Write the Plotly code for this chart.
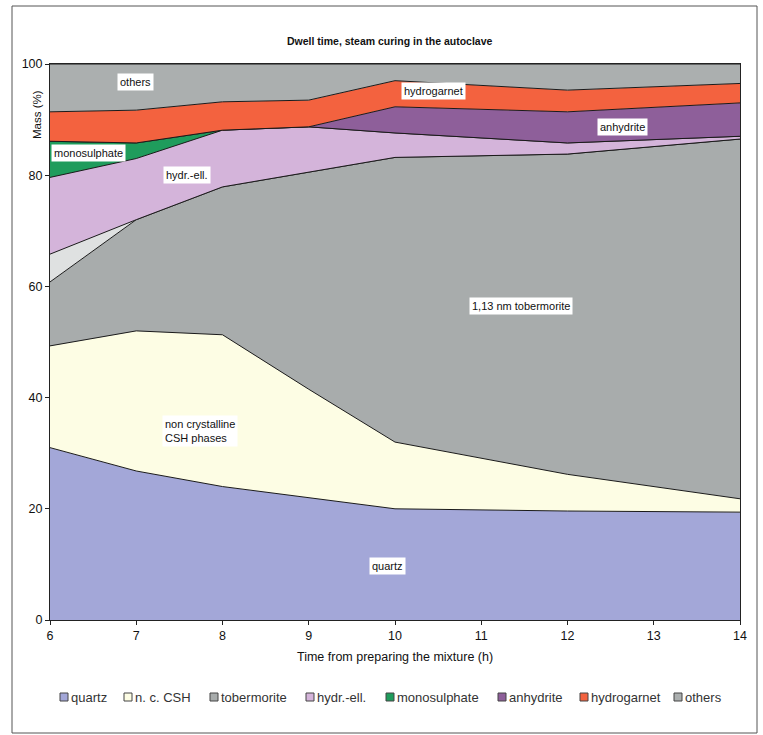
import plotly.graph_objects as go

# ---------------- data ----------------
hours = [6, 7, 8, 9, 10, 12, 14]
quartz = [31.0, 26.8, 24.0, 22.0, 20.0, 19.6, 19.4]
nc_csh = [18.3, 25.2, 27.3, 19.5, 12.0, 6.6, 2.4]
tobermorite = [11.5, 20.0, 26.6, 39.0, 51.2, 57.6, 64.7]
unnamed_phase = [5.0, 0.0, 0.0, 0.0, 0.0, 0.0, 0.0]
hydr_ell = [13.8, 11.0, 10.2, 8.2, 4.4, 2.0, 0.5]
monosulphate = [6.5, 2.8, 0.0, 0.0, 0.0, 0.0, 0.0]
anhydrite = [0.0, 0.0, 0.0, 0.0, 4.7, 5.6, 6.0]
hydrogarnet = [5.3, 5.9, 5.1, 4.8, 4.7, 3.9, 3.5]
others = [8.6, 8.3, 6.8, 6.5, 3.0, 4.7, 3.5]

series_names = ["quartz", "n. c. CSH", "tobermorite", "", "hydr.-ell.",
                "monosulphate", "anhydrite", "hydrogarnet", "others"]
series_values = [quartz, nc_csh, tobermorite, unnamed_phase, hydr_ell,
                 monosulphate, anhydrite, hydrogarnet, others]
series_colors = ["#a3a7d8", "#fdfde4", "#a8acac", "#dfe1e1", "#d4b4da",
                 "#1f9c5c", "#8e5f9a", "#f3623f", "#abafaf"]

y_ticks = [0, 20, 40, 60, 80, 100]
x_ticks = [6, 7, 8, 9, 10, 11, 12, 13, 14]

# in-plot labels: (text, x, y)
area_labels = [
    ("others", 6.99, 96.8),
    ("hydrogarnet", 10.45, 95.1),
    ("anhydrite", 12.64, 88.7),
    ("monosulphate", 6.45, 84.0),
    ("hydr.-ell.", 7.59, 80.0),
    ("1,13 nm tobermorite", 11.46, 56.5),
    ("non crystalline<br>CSH phases", 7.74, 34.0),
    ("quartz", 9.91, 9.7),
]

FONT = "Liberation Sans, Arial, sans-serif"
NARROW = "Liberation Sans Narrow, Arial Narrow, Liberation Sans, Arial, sans-serif"

fig = go.Figure()
for name, vals, col in zip(series_names, series_values, series_colors):
    fig.add_trace(go.Scatter(
        x=hours, y=vals, name=name, mode="lines", stackgroup="one",
        line=dict(color="#1a1a1a", width=1), fillcolor=col,
        showlegend=False, hoverinfo="x+y+name"))

# plot-area geometry (pixels) used for layout decorations
W, H = 763, 735
L, R, T, B = 50, 23, 64, 115
pw, ph = W - L - R, H - T - B


def px_x(px):
    return (px - L) / pw


def px_y(py):
    return (H - B - py) / ph


annotations = []
for text, xv, yv in area_labels:
    annotations.append(dict(
        x=xv, y=yv, xref="x", yref="y", text=text, showarrow=False,
        align="left", bgcolor="white", borderpad=2,
        font=dict(family=FONT, size=11, color="#111")))

# title, axis titles
annotations.append(dict(x=px_x(390), y=px_y(41), xref="paper", yref="paper",
                        xanchor="center", yanchor="middle",
                        text="<b>Dwell time, steam curing in the autoclave</b>",
                        showarrow=False, font=dict(family=FONT, size=10.5, color="#111")))
annotations.append(dict(x=px_x(37), y=px_y(115), xref="paper", yref="paper",
                        xanchor="center", yanchor="middle",
                        text="Mass (%)", textangle=-90, showarrow=False,
                        font=dict(family=FONT, size=11.5, color="#111")))
annotations.append(dict(x=px_x(395), y=px_y(657), xref="paper", yref="paper",
                        xanchor="center", yanchor="middle",
                        text="Time from preparing the mixture (h)", showarrow=False,
                        font=dict(family=NARROW, size=12.5, color="#111")))

# custom legend (squares + text)
legend_centers = [64, 128, 214, 310, 390, 502, 584, 678]
legend_idx = [0, 1, 2, 4, 5, 6, 7, 8]
shapes = []
ly = 697
for cx, i in zip(legend_centers, legend_idx):
    shapes.append(dict(type="rect", xref="paper", yref="paper",
                       x0=px_x(cx - 4), x1=px_x(cx + 4),
                       y0=px_y(ly + 4), y1=px_y(ly - 4),
                       fillcolor=series_colors[i], line=dict(color="#444", width=1)))
    annotations.append(dict(x=px_x(cx + 5), y=px_y(ly), xref="paper", yref="paper",
                            xanchor="left", yanchor="middle", text=series_names[i],
                            showarrow=False,
                            font=dict(family=NARROW, size=13, color="#333")))

# outer frame
shapes.append(dict(type="rect", xref="paper", yref="paper",
                   x0=px_x(12), x1=px_x(757), y0=px_y(733), y1=px_y(6),
                   line=dict(color="#555", width=1), fillcolor="rgba(0,0,0,0)"))

fig.update_layout(
    width=W, height=H,
    margin=dict(l=L, r=R, t=T, b=B),
    paper_bgcolor="white", plot_bgcolor="white",
    showlegend=False,
    annotations=annotations, shapes=shapes,
    xaxis=dict(range=[6, 14], tickvals=x_ticks, ticks="outside", ticklen=4,
               tickcolor="#222", showgrid=False, zeroline=False,
               showline=True, linecolor="#222", linewidth=1, mirror=True,
               tickfont=dict(family=NARROW, size=12.5, color="#111")),
    yaxis=dict(range=[0, 100], tickvals=y_ticks, ticks="outside", ticklen=4,
               tickcolor="#222", showgrid=False, zeroline=False,
               showline=True, linecolor="#222", linewidth=1, mirror=True,
               tickfont=dict(family=NARROW, size=12.5, color="#111")),
)

fig.write_html("out.html",
               config={"displayModeBar": False},
               post_script="document.body.style.margin='0px';"
                           "document.body.style.overflow='hidden';")
